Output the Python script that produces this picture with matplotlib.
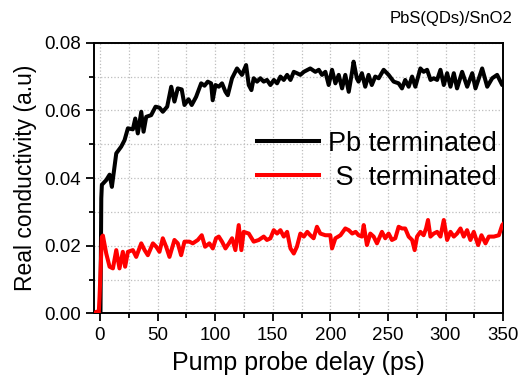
import matplotlib
matplotlib.use("Agg")
import matplotlib.pyplot as plt
from matplotlib.ticker import MultipleLocator

plt.rcParams['font.family'] = ['Liberation Sans', 'DejaVu Sans']

# Pb terminated trace (delay in ps, real conductivity in a.u.)
pb_delay = [-5, -1, 0.5, 1.2, 1.7, 5.5, 8.4, 10.4, 14.2, 18.5, 21.4, 24.3, 28.6, 30.7,
            32.9, 35.9, 37.9, 40.2, 44.5, 48.3, 51.7, 54.6, 58.4, 61.9, 64.7, 67.6, 71,
            73.4, 76.9, 79.7, 83.5, 87.9, 90.8, 93.6, 96.5, 97.9, 100.3, 103.2, 106, 109,
            111, 114.7, 119, 123.3, 126.9, 129.2, 131.5, 133.5, 136.4, 139.3, 142.2, 145,
            148, 151, 153.8, 156.7, 159.6, 162.5, 165.4, 168.3, 171, 174, 177, 182.6, 187,
            190, 192.8, 195.7, 198.6, 201.5, 204.4, 207.3, 210.2, 213, 216, 218.9, 220.2,
            223, 224.5, 227.4, 230.3, 233.2, 236, 239, 242, 246.3, 250.6, 255, 259.3, 262.2,
            265, 268, 271, 273.8, 278.2, 281, 284, 287, 289.8, 292.7, 295.6, 298.5, 301.4,
            304.3, 307.2, 310, 314.4, 318.8, 323.2, 326, 331.8, 336.2, 340.5, 344.8, 349.2,
            351]
pb_signal = [0, 0, 0.0005, 0.034, 0.038, 0.0394, 0.041, 0.0374, 0.0473, 0.0493, 0.0512,
             0.0547, 0.0544, 0.0576, 0.0532, 0.0596, 0.0537, 0.0581, 0.0586, 0.0611, 0.0608,
             0.0596, 0.0611, 0.067, 0.0626, 0.0665, 0.0662, 0.0616, 0.0633, 0.0616, 0.064,
             0.068, 0.0673, 0.0685, 0.068, 0.063, 0.0675, 0.067, 0.068, 0.0655, 0.0645,
             0.0695, 0.0724, 0.0705, 0.0734, 0.0675, 0.066, 0.0695, 0.0685, 0.0695, 0.0685,
             0.069, 0.0675, 0.069, 0.068, 0.070, 0.069, 0.0705, 0.069, 0.0714, 0.071, 0.0705,
             0.0714, 0.0724, 0.0714, 0.072, 0.0705, 0.0714, 0.0675, 0.072, 0.068, 0.0705,
             0.0665, 0.0705, 0.0655, 0.0714, 0.0744, 0.0695, 0.0685, 0.071, 0.067, 0.0705,
             0.0675, 0.070, 0.0695, 0.072, 0.0705, 0.0685, 0.068, 0.0665, 0.069, 0.067, 0.070,
             0.067, 0.0724, 0.0714, 0.072, 0.069, 0.0695, 0.069, 0.072, 0.0675, 0.071, 0.067,
             0.071, 0.0665, 0.0714, 0.067, 0.071, 0.0665, 0.0724, 0.067, 0.0695, 0.0705,
             0.0675, 0.068]

# S terminated trace
s_delay = [-5, -3, -1, -0.3, 1.7, 2.6, 5.5, 8.4, 11.3, 14.2, 17, 19.9, 21.9, 24.3, 28.6,
           31.5, 35.9, 38.8, 41.6, 46, 48.9, 51.7, 54.6, 57.5, 60.4, 64.7, 67.6, 70.5, 73.4,
           77.7, 80.6, 85, 88.4, 91.3, 95, 98, 100.8, 103.2, 106, 109, 112, 114.7, 117.6,
           120.5, 122.8, 124.8, 129.2, 133.5, 137.9, 142.2, 145, 148, 150.9, 153.8, 156.7,
           159.6, 162.5, 165.4, 168.3, 171, 174, 177, 180, 182.6, 185.5, 188.4, 191.3, 195.7,
           200, 201.5, 204.4, 208.8, 213, 216, 219, 222, 224.5, 227.4, 229, 231.8, 234.7,
           237.6, 240.5, 244.8, 247.7, 250.6, 253.5, 256.4, 259.3, 262.2, 265, 268, 271,
           273.2, 275.3, 278.2, 281, 283.1, 284.8, 286.9, 289.8, 292.7, 295.6, 298.5, 301.4,
           304.3, 307.2, 310, 313, 315.8, 318.7, 321.6, 324.5, 328.3, 331.2, 334.7, 337.6,
           342, 346.3, 349.2, 350.5]
s_signal = [0, 0.0005, 0, 0.005, 0.0226, 0.023, 0.0177, 0.0138, 0.0133, 0.0187, 0.0133,
            0.0182, 0.0138, 0.0182, 0.0187, 0.0167, 0.0207, 0.0187, 0.0172, 0.0207, 0.0197,
            0.0182, 0.0222, 0.0197, 0.0167, 0.0217, 0.0207, 0.0172, 0.0212, 0.0212, 0.0207,
            0.0217, 0.0231, 0.0197, 0.0207, 0.0192, 0.0222, 0.0227, 0.0212, 0.0192, 0.0207,
            0.0222, 0.0187, 0.0261, 0.0187, 0.0241, 0.0236, 0.0212, 0.0217, 0.0227, 0.0217,
            0.0222, 0.0246, 0.0236, 0.0246, 0.0227, 0.0241, 0.0192, 0.0177, 0.0197, 0.0236,
            0.0227, 0.0241, 0.0231, 0.0222, 0.0256, 0.0236, 0.0231, 0.0231, 0.0192, 0.0222,
            0.0231, 0.0251, 0.0246, 0.0236, 0.0241, 0.0231, 0.0227, 0.0261, 0.0202, 0.0236,
            0.0227, 0.0207, 0.0241, 0.0222, 0.0236, 0.0217, 0.0222, 0.0256, 0.0251, 0.0251,
            0.0227, 0.0217, 0.0187, 0.0227, 0.0241, 0.0231, 0.0251, 0.0276, 0.0227, 0.0236,
            0.0241, 0.0227, 0.0276, 0.0217, 0.0241, 0.0227, 0.0236, 0.0251, 0.0227, 0.0246,
            0.0217, 0.0241, 0.0202, 0.0231, 0.0207, 0.0227, 0.0227, 0.0231, 0.0261, 0.0266]

fig = plt.figure(figsize=(5.23, 3.85), dpi=100)
ax = fig.add_axes([0.180, 0.186, 0.782, 0.703])

ax.plot(pb_delay, pb_signal, color='black', lw=2.9, label='Pb terminated', zorder=3)
ax.plot(s_delay, s_signal, color='red', lw=2.9, label=' S  terminated', zorder=3)

ax.set_xlim(-5, 350)
ax.set_ylim(0, 0.08)
ax.xaxis.set_major_locator(MultipleLocator(50))
ax.xaxis.set_minor_locator(MultipleLocator(25))
ax.yaxis.set_major_locator(MultipleLocator(0.02))
ax.yaxis.set_minor_locator(MultipleLocator(0.01))
ax.set_yticklabels([f"{v:.2f}" for v in ax.get_yticks()])

ax.grid(True, which='both', linestyle=':', color='#bdbdbd', lw=0.9)
ax.set_axisbelow(True)
ax.tick_params(which='both', direction='out', top=False, right=False, width=1.3,
               labelsize=13.5, colors='black')
ax.tick_params(which='major', length=6)
ax.tick_params(which='minor', length=3.5)
for sp in ax.spines.values():
    sp.set_linewidth(1.4)

ax.set_xlabel('Pump probe delay (ps)', fontsize=18, labelpad=5)
ax.set_ylabel('Real conductivity (a.u)', fontsize=16.5, labelpad=5)

fig.text(0.979, 0.952, 'PbS(QDs)/SnO2', ha='right', va='center', fontsize=12)

ax.legend(loc='upper left', bbox_to_anchor=(0.397, 0.675), frameon=False, fontsize=19.5,
          handlelength=2.3, handletextpad=0.35, labelspacing=0.3, borderpad=0,
          borderaxespad=0)

fig.savefig('out.png', dpi=100)
